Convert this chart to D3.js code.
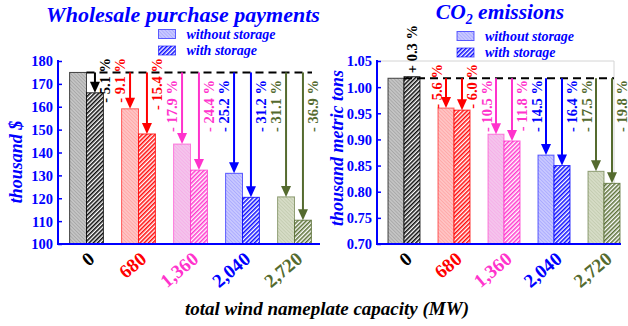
<!DOCTYPE html>
<html>
<head>
<meta charset="utf-8">
<script src="https://cdn.jsdelivr.net/npm/d3@7/dist/d3.min.js"></script>
<style>
  html, body { margin: 0; padding: 0; background: #fff; }
  svg { display: block; }
  text { font-family: "Liberation Serif", "Times New Roman", serif; font-weight: bold; }
</style>
</head>
<body>
<svg id="chart" width="628" height="326"></svg>
<script>
// ---- data ----
const categories = ["0", "680", "1,360", "2,040", "2,720"];
const groupColors = ["#000000", "#ff0000", "#ff33cc", "#0000ff", "#556b2f"];
const lightFills  = ["#c4c4c4", "#ffc4c4", "#f4c4ec", "#c8c8ff", "#d6dcc6"];

const paymentBase = 175;
const paymentWithout = [175, 159.1, 143.7, 130.9, 120.6];
const paymentWith    = [166.1, 148.1, 132.3, 120.4, 110.4];
const paymentWithoutPct = [null, -9.1, -17.9, -25.2, -31.1];
const paymentWithPct    = [-5.1, -15.4, -24.4, -31.2, -36.9];
const paymentTicks = [100, 110, 120, 130, 140, 150, 160, 170, 180];

const co2Base = 1.017;
const co2Without = [1.017, 0.960, 0.910, 0.870, 0.839];
const co2With    = [1.020, 0.956, 0.897, 0.850, 0.816];
const co2WithoutPct = [null, -5.6, -10.5, -14.5, -17.5];
const co2WithPct    = [0.3, -6.0, -11.8, -16.4, -19.8];
const co2Ticks = [0.70, 0.75, 0.80, 0.85, 0.90, 0.95, 1.00, 1.05];

const serif = '"Liberation Serif", "Times New Roman", serif';
const svg = d3.select("#chart");
const defs = svg.append("defs");

// hatch patterns: a light one for "without storage", a dense one for "with storage"
function makePatterns(key, color, light) {
  const pl = defs.append("pattern").attr("id", "light-" + key)
    .attr("patternUnits", "userSpaceOnUse").attr("width", 2.5).attr("height", 2.5)
    .attr("patternTransform", "rotate(-45)");
  pl.append("rect").attr("width", 2.5).attr("height", 2.5).attr("fill", light);
  pl.append("line").attr("x1", 0).attr("y1", 0).attr("x2", 0).attr("y2", 2.5)
    .attr("stroke", color).attr("stroke-opacity", 0.25).attr("stroke-width", 1);

  const pd = defs.append("pattern").attr("id", "dense-" + key)
    .attr("patternUnits", "userSpaceOnUse").attr("width", 3).attr("height", 3)
    .attr("patternTransform", "rotate(45)");
  pd.append("rect").attr("width", 3).attr("height", 3).attr("fill", "#fff");
  pd.append("line").attr("x1", 0.8).attr("y1", 0).attr("x2", 0.8).attr("y2", 3)
    .attr("stroke", color).attr("stroke-width", 1.5);
}
groupColors.forEach((c, i) => makePatterns(i, c, lightFills[i]));

const axisBlue = "#0000ff";
const pctText = p => (p < 0 ? "- " : "+ ") + Math.abs(p).toFixed(1) + " %";

function drawPanel(opt) {
  const g = svg.append("g");
  const y = d3.scaleLinear().domain(opt.domain).range([244, 61]);
  const x = d3.scaleBand().domain(categories).range(opt.xRange)
    .paddingInner(opt.padInner).paddingOuter(opt.padOuter);
  const bw = x.bandwidth() / 2;

  if (opt.frame) {
    g.append("path")
      .attr("d", `M${opt.axisX},${y(opt.domain[1])}H${opt.frameRight}V${y(opt.domain[0])}`)
      .attr("fill", "none").attr("stroke", "#d4d4d4").attr("stroke-width", 1);
  }

  // bars
  categories.forEach((c, i) => {
    const x0 = x(c);
    g.append("rect").attr("x", x0).attr("y", y(opt.without[i]))
      .attr("width", bw).attr("height", y(opt.domain[0]) - y(opt.without[i]))
      .attr("fill", `url(#light-${i})`).attr("stroke", groupColors[i])
      .attr("stroke-opacity", i === 0 ? 0.7 : 0.6).attr("stroke-width", 1);
    g.append("rect").attr("x", x0 + bw).attr("y", y(opt.with[i]))
      .attr("width", bw).attr("height", y(opt.domain[0]) - y(opt.with[i]))
      .attr("fill", `url(#dense-${i})`).attr("stroke", groupColors[i])
      .attr("stroke-opacity", 0.8).attr("stroke-width", 1);
  });

  // reference (no wind) level
  const baseY = y(opt.base);
  g.append("line")
    .attr("x1", x(categories[0]) + bw).attr("x2", opt.dashEnd)
    .attr("y1", baseY).attr("y2", baseY)
    .attr("stroke", "#000").attr("stroke-width", 2).attr("stroke-dasharray", "8,5");

  // change arrows and percentage labels
  function arrowAndLabel(i, value, pct, isWith) {
    if (pct === null) return;
    const c = groupColors[i];
    const x0 = x(categories[i]) + (isWith ? bw : 0);
    const cx = x0 + bw / 2;
    if (value < opt.base) {
      const ty = y(value);
      g.append("line").attr("x1", cx).attr("x2", cx).attr("y1", baseY).attr("y2", ty - 10)
        .attr("stroke", c).attr("stroke-width", 2);
      g.append("path").attr("d", `M${cx - 5},${ty - 11}L${cx + 5},${ty - 11}L${cx},${ty}Z`)
        .attr("fill", c);
      const lx = isWith ? x0 + bw + 1.5 : x0 - 1.5;
      const top = opt.raised.includes(i) ? opt.raisedTop : opt.labelTop;
      g.append("text").attr("transform", `translate(${lx},${top}) rotate(-90)`)
        .attr("text-anchor", "end").attr("dominant-baseline", "central")
        .attr("font-size", 14.5).attr("fill", c).text(pctText(pct));
    } else {
      g.append("text").attr("transform", `translate(${cx},${baseY - 5}) rotate(-90)`)
        .attr("text-anchor", "start").attr("dominant-baseline", "central")
        .attr("font-size", 14.5).attr("fill", c).text(pctText(pct));
    }
  }
  categories.forEach((c, i) => {
    arrowAndLabel(i, opt.without[i], opt.withoutPct[i], false);
    arrowAndLabel(i, opt.with[i], opt.withPct[i], true);
  });

  // y axis with inward ticks
  const yAxis = d3.axisRight(y).tickValues(opt.ticks).tickFormat(opt.fmt).tickSize(4);
  const ya = g.append("g").attr("transform", `translate(${opt.axisX},0)`).call(yAxis)
    .attr("font-family", serif).attr("font-size", 14.5);
  ya.select(".domain").remove();
  ya.selectAll(".tick line").attr("stroke", axisBlue).attr("stroke-width", 1.5);
  ya.selectAll(".tick text").attr("x", -5).attr("text-anchor", "end")
    .attr("fill", axisBlue).attr("dy", "0.34em");
  g.append("line").attr("x1", opt.axisX).attr("x2", opt.axisX)
    .attr("y1", y(opt.domain[1]) - 1).attr("y2", y(opt.domain[0]) + 1)
    .attr("stroke", axisBlue).attr("stroke-width", 2);
  g.append("line").attr("x1", opt.axisX).attr("x2", opt.axisEnd)
    .attr("y1", y(opt.domain[0])).attr("y2", y(opt.domain[0]))
    .attr("stroke", axisBlue).attr("stroke-width", 2);

  // category labels
  categories.forEach((c, i) => {
    const cx = x(c) + x.bandwidth() / 2;
    g.append("text").attr("transform", `translate(${cx + 5},${y(opt.domain[0]) + 12}) rotate(-40)`)
      .attr("text-anchor", "end").attr("dominant-baseline", "central")
      .attr("font-size", 19).attr("fill", groupColors[i]).text(c);
  });

  // y title
  g.append("text").attr("transform", `translate(${opt.yTitleX},${opt.yTitleY}) rotate(-90)`)
    .attr("text-anchor", "middle").attr("dominant-baseline", "central")
    .attr("font-size", 18).attr("font-style", "italic").attr("fill", axisBlue)
    .text(opt.yTitle);

  // legend
  const lg = g.append("g");
  [["without storage", "light"], ["with storage", "dense"]].forEach(([t, p], k) => {
    const ly = opt.legendY + k * 16.5;
    lg.append("rect").attr("x", opt.legendX).attr("y", ly).attr("width", 17).attr("height", 9)
      .attr("fill", `url(#${p}-3)`).attr("stroke", axisBlue).attr("stroke-opacity", 0.6);
    lg.append("text").attr("x", opt.legendX + 28).attr("y", ly + 9)
      .attr("font-size", 14).attr("font-style", "italic").attr("fill", axisBlue).text(t);
  });

  return g;
}

drawPanel({
  domain: [100, 180], ticks: paymentTicks, fmt: d3.format("d"),
  base: paymentBase, without: paymentWithout, with: paymentWith,
  withoutPct: paymentWithoutPct, withPct: paymentWithPct,
  xRange: [60.5, 320.5], padInner: 0.35, padOuter: 0.175,
  axisX: 58, axisEnd: 320, dashEnd: 312,
  labelTop: 80, raisedTop: 58, raised: [0, 1],
  yTitle: "thousand $", yTitleX: 16, yTitleY: 162,
  legendX: 158.5, legendY: 29.5, frame: false
});

drawPanel({
  domain: [0.70, 1.05], ticks: co2Ticks, fmt: d3.format(".2f"),
  base: co2Base, without: co2Without, with: co2With,
  withoutPct: co2WithoutPct, withPct: co2WithPct,
  xRange: [379, 629], padInner: 0.36, padOuter: 0.18,
  axisX: 377, axisEnd: 621, dashEnd: 614,
  labelTop: 80, raisedTop: 64, raised: [1],
  yTitle: "thousand metric tons", yTitleX: 337, yTitleY: 148,
  legendX: 457, legendY: 31.5, frame: true, frameRight: 614
});

// titles
svg.append("text").attr("x", 183).attr("y", 22).attr("text-anchor", "middle")
  .attr("font-size", 22).attr("font-style", "italic").attr("fill", axisBlue)
  .text("Wholesale purchase payments");
const co2 = svg.append("text").attr("x", 500).attr("y", 19).attr("text-anchor", "middle")
  .attr("font-size", 21.5).attr("font-style", "italic").attr("fill", axisBlue);
co2.append("tspan").text("CO");
co2.append("tspan").attr("font-size", 14).attr("dy", 5).text("2");
co2.append("tspan").attr("dy", -5).text(" emissions");

// shared x title
svg.append("text").attr("x", 327).attr("y", 315).attr("text-anchor", "middle")
  .attr("font-size", 19).attr("font-style", "italic").attr("fill", "#000")
  .text("total wind nameplate capacity (MW)");
</script>
</body>
</html>
